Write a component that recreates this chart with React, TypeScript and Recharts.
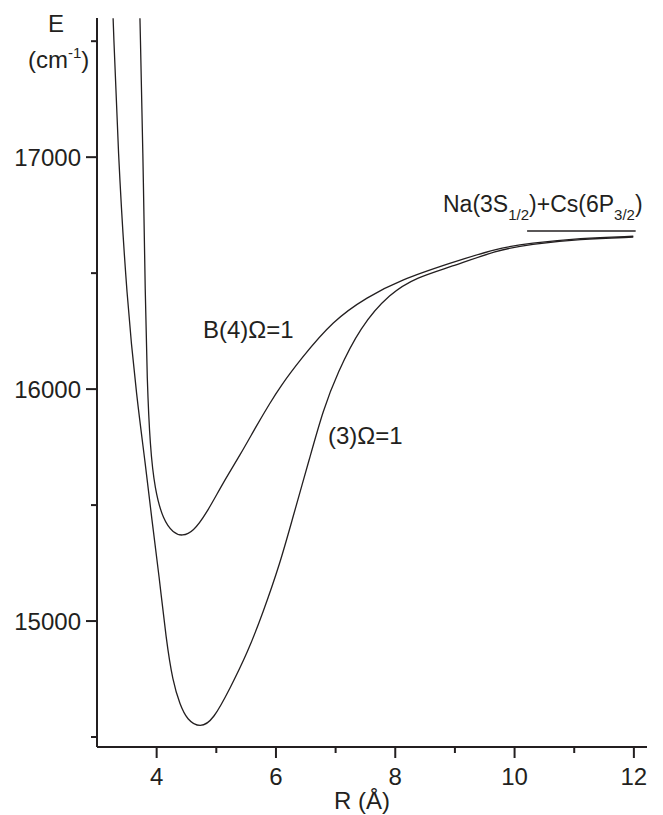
import React from 'react';
import { LineChart, Line, XAxis, YAxis } from 'recharts';

// (3)Ω=1 potential curve, R in Å, E in cm-1
const state3R = [3.27, 3.35, 3.5, 3.67, 3.81, 3.92, 4.04, 4.16, 4.27, 4.39, 4.51, 4.73, 4.95, 5.23, 5.52, 5.78, 6.07, 6.27, 6.57, 6.79, 7.03, 7.41, 7.91, 8.37, 8.92, 9.71, 10.26, 11.1, 11.99];
const state3E = [17599, 17030, 16384, 15953, 15681, 15435, 15198, 14918, 14740, 14640, 14574, 14538, 14574, 14710, 14862, 15034, 15250, 15435, 15707, 15910, 16069, 16267, 16414, 16483, 16526, 16599, 16625, 16647, 16655];

// B(4)Ω=1 potential curve
const stateBR = [3.72, 3.77, 3.81, 3.84, 3.89, 3.97, 4.11, 4.28, 4.43, 4.61, 4.84, 5.11, 5.4, 5.68, 5.9, 6.07, 6.4, 6.96, 7.53, 8.08, 8.92, 9.71, 10.26, 11.1, 11.99];
const stateBE = [17599, 17030, 16384, 16039, 15750, 15565, 15435, 15379, 15366, 15384, 15466, 15595, 15716, 15845, 15940, 16010, 16125, 16297, 16397, 16470, 16543, 16608, 16629, 16651, 16659];

// Na(3S1/2)+Cs(6P3/2) asymptote
const asymR = [10.21, 12.03];
const asymE = [16682, 16682];

const rTicks = [4, 5, 6, 7, 8, 9, 10, 11, 12];
const eTicks = [14500, 15000, 15500, 16000, 16500, 17000, 17500];

const toPoints = (xs: number[], ys: number[]) => xs.map((r, i) => ({ r, e: ys[i] }));

const ink = '#231f20';
const font = '"Liberation Sans", Arial, sans-serif';

const RTick = (props: any) => {
  const { x, y, payload } = props;
  const major = payload.value % 2 === 0;
  return (
    <g>
      <line x1={x} x2={x} y1={y} y2={y + (major ? 11 : 6)} stroke={ink} strokeWidth={2} />
      {major && (
        <text x={x} y={y + 38} textAnchor="middle" fontSize={24} fontFamily={font} fill={ink}>
          {payload.value}
        </text>
      )}
    </g>
  );
};

const ETick = (props: any) => {
  const { x, y, payload } = props;
  const major = payload.value % 1000 === 0;
  return (
    <g>
      <line x1={x - (major ? 11 : 6)} x2={x} y1={y} y2={y} stroke={ink} strokeWidth={2} />
      {major && (
        <text x={x - 16} y={y} dy="0.36em" textAnchor="end" fontSize={24} fontFamily={font} fill={ink}>
          {payload.value}
        </text>
      )}
    </g>
  );
};

export default function App() {
  return (
    <div style={{ position: 'absolute', left: 0, top: 0, background: '#fff' }}>
      <LineChart width={663} height={815} margin={{ top: 18, right: 16, bottom: 0, left: 0 }}>
        <XAxis
          dataKey="r"
          type="number"
          domain={[3, 12.22]}
          ticks={rTicks}
          interval={0}
          allowDataOverflow
          height={68}
          tickSize={0}
          tickMargin={0}
          tick={<RTick />}
          axisLine={{ stroke: ink, strokeWidth: 2 }}
        />
        <YAxis
          dataKey="e"
          type="number"
          domain={[14457, 17600]}
          ticks={eTicks}
          interval={0}
          allowDataOverflow
          width={97}
          tickSize={0}
          tickMargin={0}
          tick={<ETick />}
          axisLine={{ stroke: ink, strokeWidth: 2 }}
        />
        <Line data={toPoints(state3R, state3E)} dataKey="e" type="basis" dot={false} stroke={ink} strokeWidth={1.3} isAnimationActive={false} />
        <Line data={toPoints(stateBR, stateBE)} dataKey="e" type="basis" dot={false} stroke={ink} strokeWidth={1.3} isAnimationActive={false} />
        <Line data={toPoints(asymR, asymE)} dataKey="e" type="linear" dot={false} stroke={ink} strokeWidth={1.6} isAnimationActive={false} />

        <text fontFamily={font} fill={ink} fontSize={24}>
          <tspan x={56} y={32} textAnchor="middle">E</tspan>
        </text>
        <text fontFamily={font} fill={ink} fontSize={24} x={28} y={68}>
          (cm<tspan fontSize={15} dy={-10}>-1</tspan><tspan dy={10}>)</tspan>
        </text>
        <text fontFamily={font} fill={ink} fontSize={24} x={203} y={338}>B(4)Ω=1</text>
        <text fontFamily={font} fill={ink} fontSize={24} x={328} y={444}>(3)Ω=1</text>
        <text fontFamily={font} fill={ink} fontSize={23} x={443} y={212}>
          Na(3S<tspan fontSize={15} dy={8}>1/2</tspan>
          <tspan dy={-8}>)+Cs(6P</tspan>
          <tspan fontSize={15} dy={8}>3/2</tspan>
          <tspan dy={-8}>)</tspan>
        </text>
        <text fontFamily={font} fill={ink} fontSize={24} x={362} y={809} textAnchor="middle">R (Å)</text>
      </LineChart>
    </div>
  );
}
